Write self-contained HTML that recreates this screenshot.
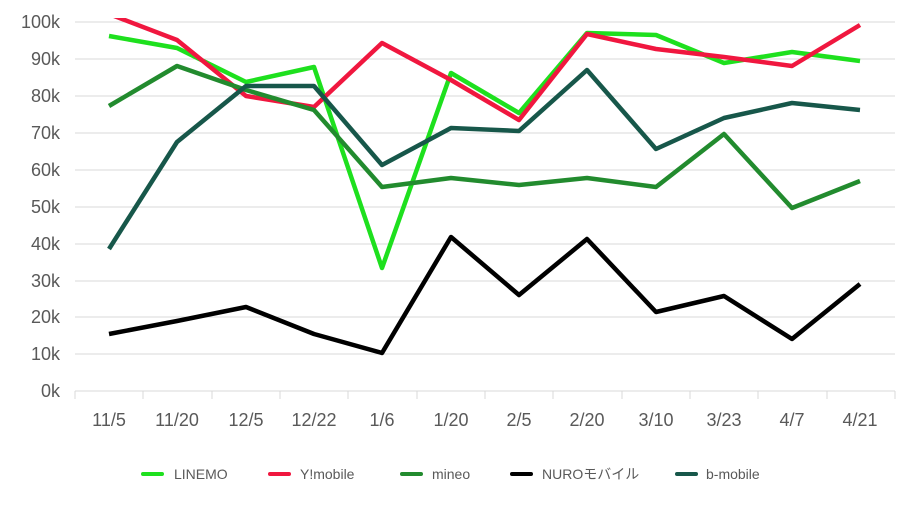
<!DOCTYPE html>
<html><head><meta charset="utf-8"><style>
body{margin:0;background:#fff}
svg text{font-family:"Liberation Sans","Noto Sans CJK JP",sans-serif;fill:#595959}
</style></head><body>
<svg width="906" height="513" viewBox="0 0 906 513" xmlns="http://www.w3.org/2000/svg">
<defs><clipPath id="c"><rect x="60" y="18" width="846" height="400"/></clipPath></defs>
<g stroke="#d9d9d9" stroke-width="1">
<line x1="75" x2="895" y1="22" y2="22"/><line x1="75" x2="895" y1="59" y2="59"/><line x1="75" x2="895" y1="96" y2="96"/><line x1="75" x2="895" y1="133" y2="133"/><line x1="75" x2="895" y1="170" y2="170"/><line x1="75" x2="895" y1="207" y2="207"/><line x1="75" x2="895" y1="244" y2="244"/><line x1="75" x2="895" y1="281" y2="281"/><line x1="75" x2="895" y1="317" y2="317"/><line x1="75" x2="895" y1="354" y2="354"/><line x1="75" x2="895" y1="391" y2="391"/>
<line x1="75" x2="75" y1="391" y2="399"/><line x1="143" x2="143" y1="391" y2="399"/><line x1="212" x2="212" y1="391" y2="399"/><line x1="280" x2="280" y1="391" y2="399"/><line x1="348" x2="348" y1="391" y2="399"/><line x1="417" x2="417" y1="391" y2="399"/><line x1="485" x2="485" y1="391" y2="399"/><line x1="553" x2="553" y1="391" y2="399"/><line x1="622" x2="622" y1="391" y2="399"/><line x1="690" x2="690" y1="391" y2="399"/><line x1="758" x2="758" y1="391" y2="399"/><line x1="827" x2="827" y1="391" y2="399"/><line x1="895" x2="895" y1="391" y2="399"/>
</g>
<g font-size="18" text-anchor="end">
<text x="60" y="28">100k</text><text x="60" y="65">90k</text><text x="60" y="102">80k</text><text x="60" y="139">70k</text><text x="60" y="176">60k</text><text x="60" y="213">50k</text><text x="60" y="250">40k</text><text x="60" y="287">30k</text><text x="60" y="323">20k</text><text x="60" y="360">10k</text><text x="60" y="397">0k</text>
</g>
<g font-size="18" text-anchor="middle">
<text x="109" y="426">11/5</text><text x="177" y="426">11/20</text><text x="246" y="426">12/5</text><text x="314" y="426">12/22</text><text x="382" y="426">1/6</text><text x="451" y="426">1/20</text><text x="519" y="426">2/5</text><text x="587" y="426">2/20</text><text x="656" y="426">3/10</text><text x="724" y="426">3/23</text><text x="792" y="426">4/7</text><text x="860" y="426">4/21</text>
</g>
<g fill="none" stroke-width="4.5" stroke-linejoin="round" clip-path="url(#c)">
<polyline stroke="#1ee01e" points="109,36 177,48 246,82 314,67 382,268 451,73 519,113 587,33 656,35 724,63 792,52 860,61"/>
<polyline stroke="#f0173f" points="109,14 177,40 246,96 314,107 382,43 451,80 519,120 587,34 656,49 724,57 792,66 860,25"/>
<polyline stroke="#228b2e" points="109,106 177,66 246,90 314,110 382,187 451,178 519,185 587,178 656,187 724,134 792,208 860,181"/>
<polyline stroke="#000" points="109,334 177,321 246,307 314,334 382,353 451,237 519,295 587,239 656,312 724,296 792,339 860,284"/>
<polyline stroke="#17574a" points="109,249 177,142 246,86 314,86 382,165 451,128 519,131 587,70 656,149 724,118 792,103 860,110"/>
</g>
<g stroke-width="4" stroke-linecap="round">
<line x1="143" x2="162" y1="474" y2="474" stroke="#1ee01e"/>
<line x1="270" x2="289" y1="474" y2="474" stroke="#f0173f"/>
<line x1="402" x2="421" y1="474" y2="474" stroke="#228b2e"/>
<line x1="512" x2="531" y1="474" y2="474" stroke="#000"/>
<line x1="677" x2="696" y1="474" y2="474" stroke="#17574a"/>
</g>
<g font-size="14">
<text x="174" y="479">LINEMO</text><text x="300" y="479">Y!mobile</text><text x="432" y="479">mineo</text><text x="542" y="479">NUROモバイル</text><text x="706" y="479">b-mobile</text>
</g>
</svg>
</body></html>
